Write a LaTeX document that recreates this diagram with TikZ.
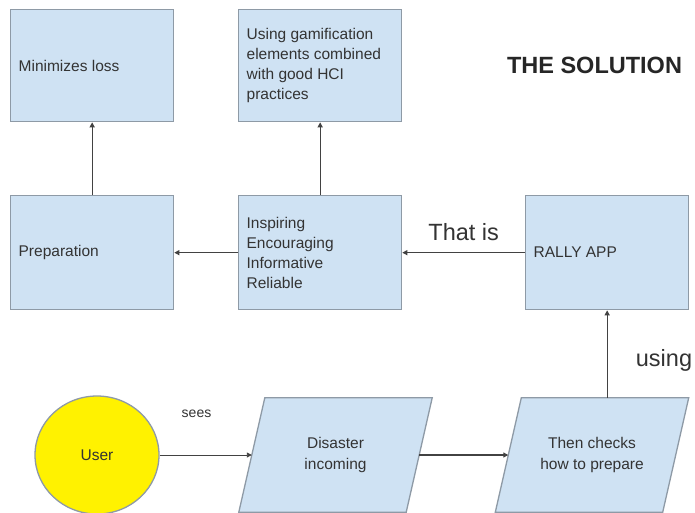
\documentclass[tikz,border=0pt]{standalone}
\usepackage{fontspec}
\setmainfont{Liberation Sans}
\usetikzlibrary{arrows.meta,shapes.geometric}
\definecolor{boxfill}{HTML}{CFE2F3}
\definecolor{boxdraw}{HTML}{8E9AA6}
\definecolor{linec}{HTML}{424242}
\definecolor{txt}{HTML}{333333}
\tikzset{
  bx/.style={draw=boxdraw, fill=boxfill, line width=1.3pt, minimum width=163pt, minimum height=112pt,
    text width=147pt, inner xsep=8pt, align=flush left, anchor=north west, font=\fontsize{15.5}{20}\selectfont, text=txt},
  pg/.style={minimum width=167pt, minimum height=114pt, inner sep=0pt, align=center,
    font=\fontsize{15.5}{21}\selectfont, text=txt},
  conn/.style={draw=linec, line width=1.2pt, -{Triangle[length=5pt,width=5pt]}},
  lbl/.style={font=\fontsize{23.5}{26}\selectfont, text=txt, inner sep=0pt}
}
\begin{document}
\begin{tikzpicture}[x=1pt,y=-1pt]
\useasboundingbox[fill=white] (0,0) rectangle (695,512);
\node[bx] (min) at (10,9) {Minimizes loss};
\node[bx] (gam) at (238,9) {Using gamification\\elements combined\\with good HCI\\practices};
\node[bx, minimum height=114pt] (prep) at (10,195) {Preparation};
\node[bx, minimum height=114pt] (insp) at (238,195) {Inspiring\\Encouraging\\Informative\\Reliable};
\node[bx, minimum height=114pt, font=\fontsize{15.5}{20}\selectfont] (rally) at (525,195) {RALLY APP};
\node[font=\bfseries\fontsize{23.5}{26}\selectfont, text=black!85, inner sep=0pt] (title) at (594.5,65) {THE SOLUTION};

\node[draw=boxdraw, fill=yellow, line width=1.3pt, ellipse, minimum width=124pt, minimum height=118pt, inner sep=0pt,
  font=\fontsize{15.5}{18}\selectfont, text=txt] (user) at (97,455) {User};
\node[pg] (dis) at (335.5,455) {Disaster\\incoming};
\node[pg] (chk) at (592,455) {Then checks\\how to prepare};
\foreach \p in {dis,chk}{
  \draw[draw=boxdraw, fill=boxfill, line width=1.3pt]
    ([xshift=13pt]\p.north west) -- ([xshift=13pt]\p.north east) --
    ([xshift=-13pt]\p.south east) -- ([xshift=-13pt]\p.south west) -- cycle;
}
\node[pg] at (dis) {Disaster\\incoming};
\node[pg] at (chk) {Then checks\\how to prepare};

\draw[conn] (prep.north) -- (min.south);
\draw[conn] (insp.north) -- (gam.south);
\draw[conn] (insp.west) -- (prep.east);
\draw[conn] (rally.west) -- node[lbl, above=11pt] (thatis) {That is} (insp.east);
\draw[conn, line width=0.9pt] (user.east) -- node[font=\fontsize{14}{16}\selectfont, text=txt, above=34pt, pos=0.4] (sees) {sees} (dis.west);
\draw[conn] (dis.east) -- (chk.west);
\coordinate (chktop) at (rally.south |- chk.north);
\draw[conn] (chktop) -- (rally.south);
\node[lbl] (using) at (664,360) {using};
\end{tikzpicture}
\end{document}
